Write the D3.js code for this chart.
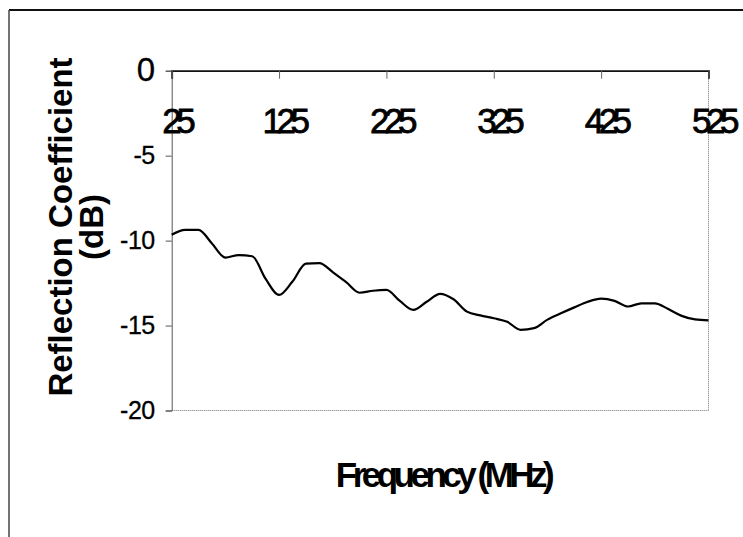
<!DOCTYPE html>
<html>
<head>
<meta charset="utf-8">
<script src="https://cdn.jsdelivr.net/npm/d3@7/dist/d3.min.js"></script>
<style>
  html, body { margin: 0; padding: 0; background: #fff; }
  svg { display: block; }
  text { font-family: "Liberation Sans", Arial, sans-serif; fill: #000; }
</style>
</head>
<body>
<svg id="chart" width="743" height="537"></svg>
<script>
// ---- data ----
const frequencies = [25, 37.5, 50, 62.5, 75, 87.5, 100, 112.5, 125, 137.5, 150, 162.5, 175, 187.5, 200,
  212.5, 225, 237.5, 250, 262.5, 275, 287.5, 300, 312.5, 325, 337.5, 350, 362.5, 375, 387.5, 400,
  412.5, 425, 437.5, 450, 462.5, 475, 487.5, 500, 512.5, 525];
const reflectionDb = [-9.66, -9.37, -9.37, -10.17, -11.0, -10.85, -10.92, -12.25, -13.2, -12.41, -11.35, -11.33, -11.85, -12.45, -13.07,
  -12.95, -12.9, -13.55, -14.08, -13.6, -13.13, -13.45, -14.18, -14.4, -14.57, -14.78, -15.25, -15.15, -14.65, -14.28, -13.93,
  -13.6, -13.42, -13.55, -13.88, -13.69, -13.69, -14.03, -14.43, -14.64, -14.7];
const xTickValues = [25, 125, 225, 325, 425, 525];
const yTickValues = [0, -5, -10, -15, -20];
const xTitle = "Frequency (MHz)";
const yTitleLines = ["Reflection Coefficient", "(dB)"];

// ---- layout ----
const svg = d3.select("#chart");
const plot = { left: 171.7, right: 708.5, top: 70.7, bottom: 410.5 };

const x = d3.scaleLinear().domain([25, 525]).range([plot.left, plot.right]);
const y = d3.scaleLinear().domain([-20, 0]).range([plot.bottom, plot.top]);

// outer frame (cut by the window on right and bottom)
svg.append("line").attr("x1", 9).attr("x2", 743).attr("y1", 10).attr("y2", 10)
  .attr("stroke", "#111").attr("stroke-width", 2);
svg.append("line").attr("x1", 9).attr("x2", 9).attr("y1", 10).attr("y2", 537)
  .attr("stroke", "#444").attr("stroke-width", 1.5);

// plot area border (dotted right & bottom)
svg.append("line").attr("x1", plot.right).attr("x2", plot.right).attr("y1", plot.top).attr("y2", plot.bottom)
  .attr("stroke", "#777").attr("stroke-width", 1).attr("stroke-dasharray", "1,1");
svg.append("line").attr("x1", plot.left).attr("x2", plot.right).attr("y1", plot.bottom).attr("y2", plot.bottom)
  .attr("stroke", "#777").attr("stroke-width", 1).attr("stroke-dasharray", "1,1");

// y axis
const yAxis = svg.append("g").attr("transform", `translate(${plot.left},0)`)
  .call(d3.axisLeft(y).tickValues(yTickValues).tickSize(6).tickPadding(11).tickFormat(d => String(d)));
yAxis.select(".domain").attr("stroke", "#555").attr("stroke-width", 1);
yAxis.selectAll(".tick line").attr("stroke", "#555");
yAxis.selectAll(".tick text")
  .style("font-size", d => d === 0 ? "33px" : "25px")
  .attr("letter-spacing", "-0.5px")
  .attr("stroke", "#000").attr("stroke-width", 0.3)
  .attr("dy", d => d === 0 ? "0.30em" : "0.32em");

// x axis along the top (0 dB line), ticks pointing down
const xAxis = svg.append("g").attr("transform", `translate(0,${plot.top})`)
  .call(d3.axisBottom(x).tickValues(xTickValues).tickSize(8).tickPadding(29).tickFormat(d => String(d)));
xAxis.select(".domain").attr("stroke", "#111").attr("stroke-width", 1.8);
xAxis.selectAll(".tick line").attr("stroke", "#666");
xAxis.selectAll(".tick text")
  .style("font-size", "35px")
  .attr("letter-spacing", "-5.5px")
  .attr("stroke", "#000").attr("stroke-width", 0.8)
  .attr("dx", "4px");

// data line
const line = d3.line()
  .x((d, i) => x(frequencies[i]))
  .y(d => y(d))
  .curve(d3.curveMonotoneX);
svg.append("path").datum(reflectionDb)
  .attr("d", line)
  .attr("fill", "none")
  .attr("stroke", "#000")
  .attr("stroke-width", 2.2);

// axis titles
svg.append("text")
  .attr("x", 443).attr("y", 487)
  .attr("text-anchor", "middle")
  .style("font-size", "35px").style("font-weight", "bold")
  .attr("letter-spacing", "-4.5px")
  .text(xTitle);

const yTitle = svg.append("g");
yTitleLines.forEach((t, i) => {
  yTitle.append("text")
    .attr("transform", `translate(${72 + i * 31},227) rotate(-90)`)
    .attr("text-anchor", "middle")
    .style("font-size", "33px").style("font-weight", "bold")
    .text(t);
});
</script>
</body>
</html>
